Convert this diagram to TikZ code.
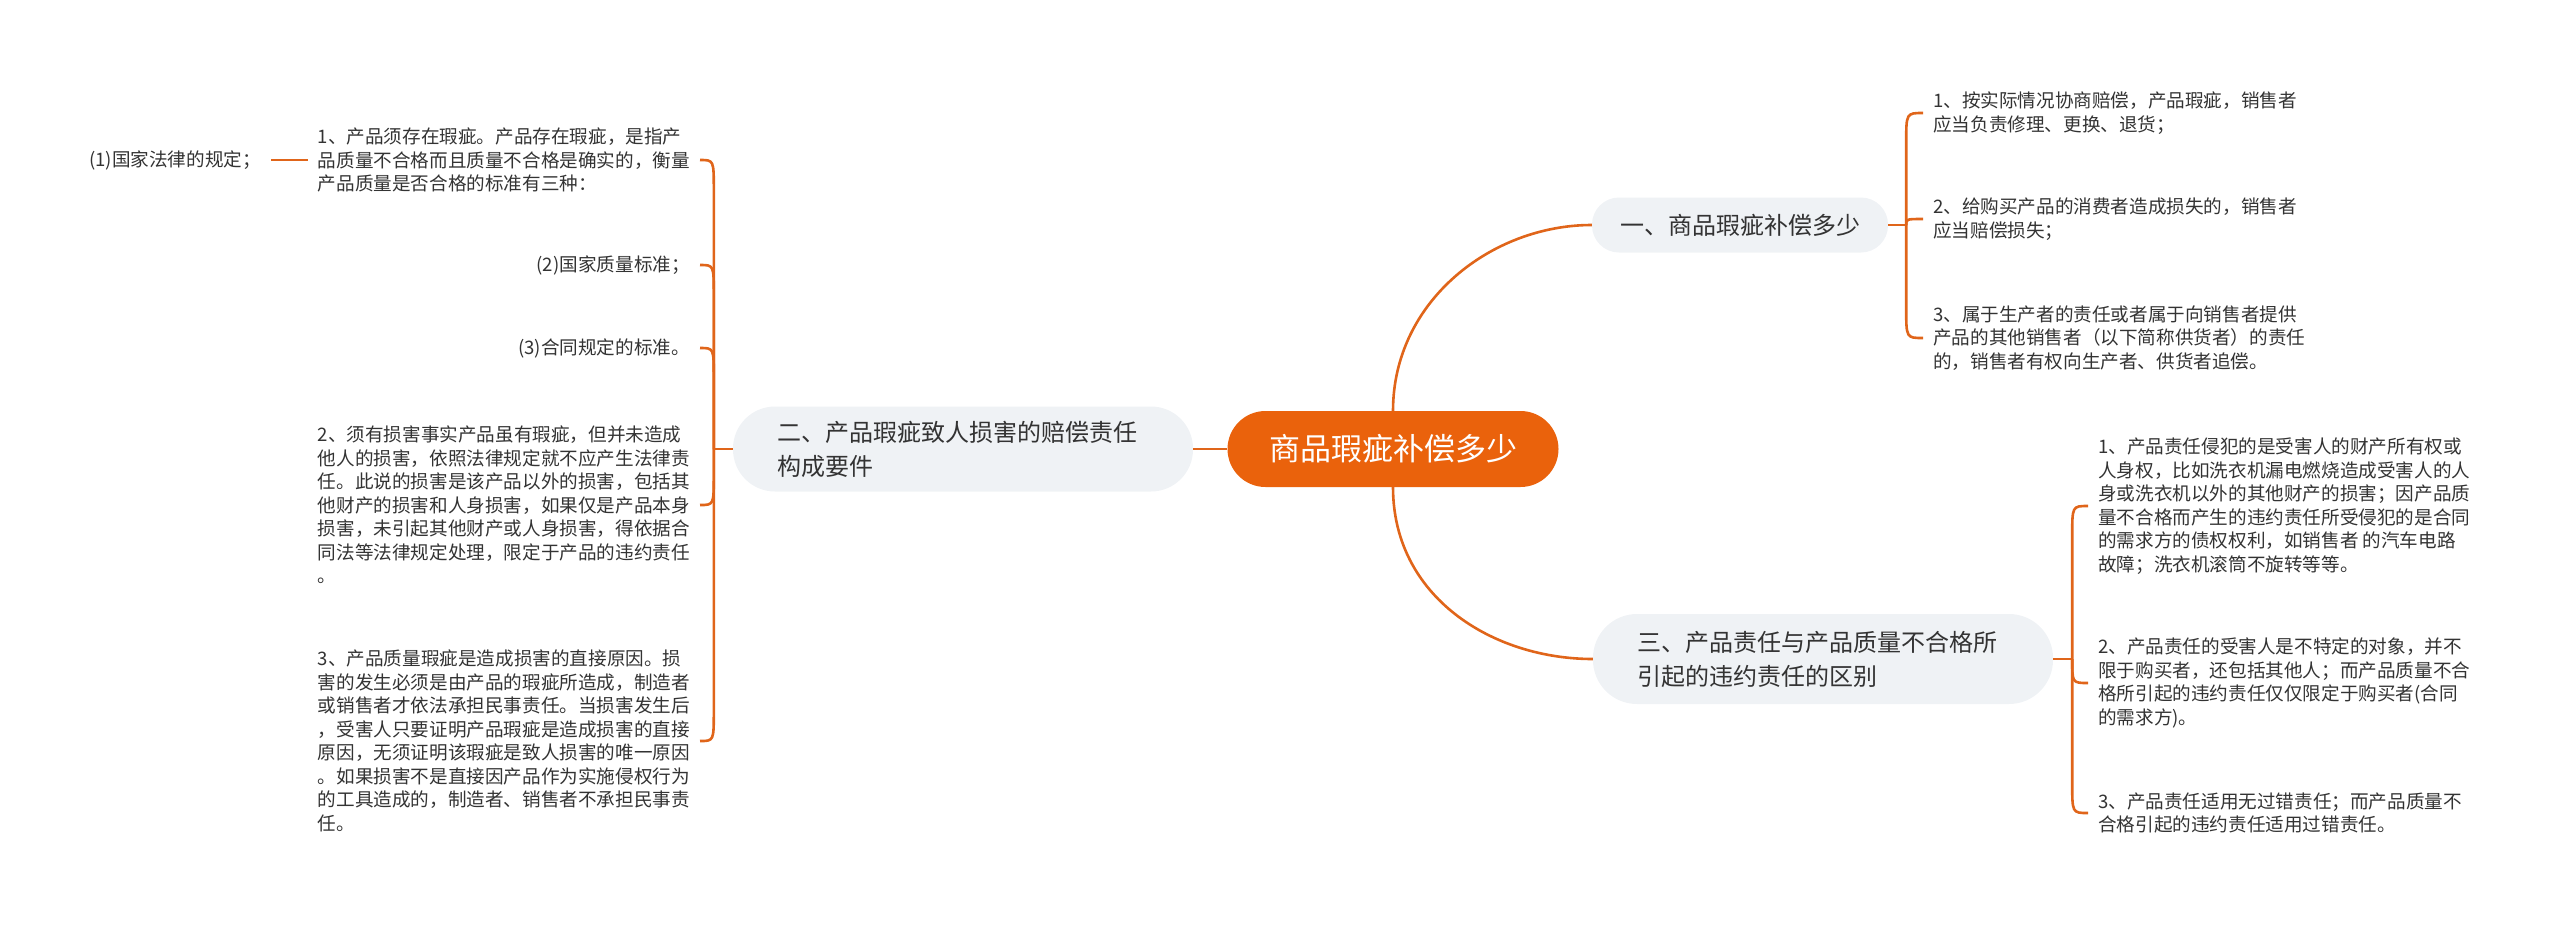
\documentclass[tikz,border=0pt]{standalone}
\usepackage{fontspec}
\setmainfont{Noto Sans CJK SC}
\usetikzlibrary{calc}
\definecolor{mmorange}{HTML}{EA620C}
\definecolor{mmline}{HTML}{E0651A}
\definecolor{mmgray}{HTML}{EFF2F5}
\definecolor{mmtext}{HTML}{333333}
\tikzset{
  rootbox/.style={fill=mmorange, text=white, rounded corners=38pt, minimum height=76pt,
    minimum width=331pt, font=\fontsize{31}{36}\selectfont},
  topicbox/.style={fill=mmgray, text=mmtext, align=left, font=\fontsize{24}{34}\selectfont,
    inner xsep=44pt},
  leaf/.style={text=mmtext, align=left, font=\fontsize{18.6}{23.5}\selectfont,
    inner xsep=10pt, inner ysep=4pt},
  link/.style={draw=mmline, line width=2.6pt},
}
\begin{document}
\begin{tikzpicture}[x=1pt, y=-1pt]
    \useasboundingbox (0,0) rectangle (2560,927);

    % centre and main topics
    \node[rootbox] (root) at (1393,449) {商品瑕疵补偿多少};
    \node[topicbox, rounded corners=27pt, minimum height=55pt, inner xsep=28pt] (t1) at (1740,225) {一、商品瑕疵补偿多少};
    \node[topicbox, rounded corners=42pt, minimum height=85pt, text width=372pt] (t2) at (963,449)
        {二、产品瑕疵致人损害的赔偿责任\\构成要件};
    \node[topicbox, rounded corners=44pt, minimum height=90pt, text width=372pt] (t3) at (1823,659)
        {三、产品责任与产品质量不合格所\\引起的违约责任的区别};

    \draw[link] (root.west) -- (t2.east);
    \draw[link] (root.north) .. controls +(0,-110) and +(-100,0) .. (t1.west);
    \draw[link] (root.south) .. controls +(0,110) and +(-100,0) .. (t3.west);

    \coordinate (j1) at ($(t1.east)+(18,0)$);
    \coordinate (j2) at ($(t2.west)+(-19,0)$);
    \coordinate (j3) at ($(t3.east)+(19,0)$);

    % topic one
    \node[leaf, anchor=west] (a1) at (1923,113) {1、按实际情况协商赔偿，产品瑕疵，销售者\\应当负责修理、更换、退货；};
    \node[leaf, anchor=west] (a2) at (1923,219) {2、给购买产品的消费者造成损失的，销售者\\应当赔偿损失；};
    \node[leaf, anchor=west] (a3) at (1923,338) {3、属于生产者的责任或者属于向销售者提供\\产品的其他销售者（以下简称供货者）的责任\\的，销售者有权向生产者、供货者追偿。};

    % topic two
    \node[leaf, anchor=east] (q1) at (700,160) {1、产品须存在瑕疵。产品存在瑕疵，是指产\\品质量不合格而且质量不合格是确实的，衡量\\产品质量是否合格的标准有三种：};
    \node[leaf, anchor=east] (law) at (271,160) {(1)国家法律的规定；};
    \node[leaf, anchor=east] (q2) at (700,265) {(2)国家质量标准；};
    \node[leaf, anchor=east] (q3) at (700,348) {(3)合同规定的标准。};
    \node[leaf, anchor=east] (q4) at (700,505) {2、须有损害事实产品虽有瑕疵，但并未造成\\他人的损害，依照法律规定就不应产生法律责\\任。此说的损害是该产品以外的损害，包括其\\他财产的损害和人身损害，如果仅是产品本身\\损害，未引起其他财产或人身损害，得依据合\\同法等法律规定处理，限定于产品的违约责任\\。};
    \node[leaf, anchor=east] (q5) at (700,741) {3、产品质量瑕疵是造成损害的直接原因。损\\害的发生必须是由产品的瑕疵所造成，制造者\\或销售者才依法承担民事责任。当损害发生后\\，受害人只要证明产品瑕疵是造成损害的直接\\原因，无须证明该瑕疵是致人损害的唯一原因\\。如果损害不是直接因产品作为实施侵权行为\\的工具造成的，制造者、销售者不承担民事责\\任。};

    % topic three
    \node[leaf, anchor=west] (c1) at (2088,506) {1、产品责任侵犯的是受害人的财产所有权或\\人身权，比如洗衣机漏电燃烧造成受害人的人\\身或洗衣机以外的其他财产的损害；因产品质\\量不合格而产生的违约责任所受侵犯的是合同\\的需求方的债权权利，如销售者 的汽车电路\\故障；洗衣机滚筒不旋转等等。};
    \node[leaf, anchor=west] (c2) at (2088,683) {2、产品责任的受害人是不特定的对象，并不\\限于购买者，还包括其他人；而产品质量不合\\格所引起的违约责任仅仅限定于购买者(合同\\的需求方)。};
    \node[leaf, anchor=west] (c3) at (2088,813) {3、产品责任适用无过错责任；而产品质量不\\合格引起的违约责任适用过错责任。};

    % brackets
    \draw[link] (t1.east) -- (j1);
    \draw[link] (t2.west) -- (j2);
    \draw[link] (t3.east) -- (j3);
    \draw[link] (j1) -- ($(j1 |- a1.west)+(0,30)$) .. controls (j1 |- a1.west) .. (a1.west);
    \draw[link] (j1) .. controls (j1 |- a2.west) .. (a2.west);
    \draw[link] (j1) -- ($(j1 |- a3.west)+(0,-30)$) .. controls (j1 |- a3.west) .. (a3.west);
    \foreach \n in {q1,q2,q3}
        \draw[link] (j2) -- ($(j2 |- \n.east)+(0,30)$) .. controls (j2 |- \n.east) .. (\n.east);
    \foreach \n in {q4,q5}
        \draw[link] (j2) -- ($(j2 |- \n.east)+(0,-30)$) .. controls (j2 |- \n.east) .. (\n.east);
    \draw[link] (q1.west) -- (law.east);
    \draw[link] (j3) -- ($(j3 |- c1.west)+(0,30)$) .. controls (j3 |- c1.west) .. (c1.west);
    \draw[link] (j3) .. controls (j3 |- c2.west) .. (c2.west);
    \draw[link] (j3) -- ($(j3 |- c3.west)+(0,-30)$) .. controls (j3 |- c3.west) .. (c3.west);
\end{tikzpicture}
\end{document}
